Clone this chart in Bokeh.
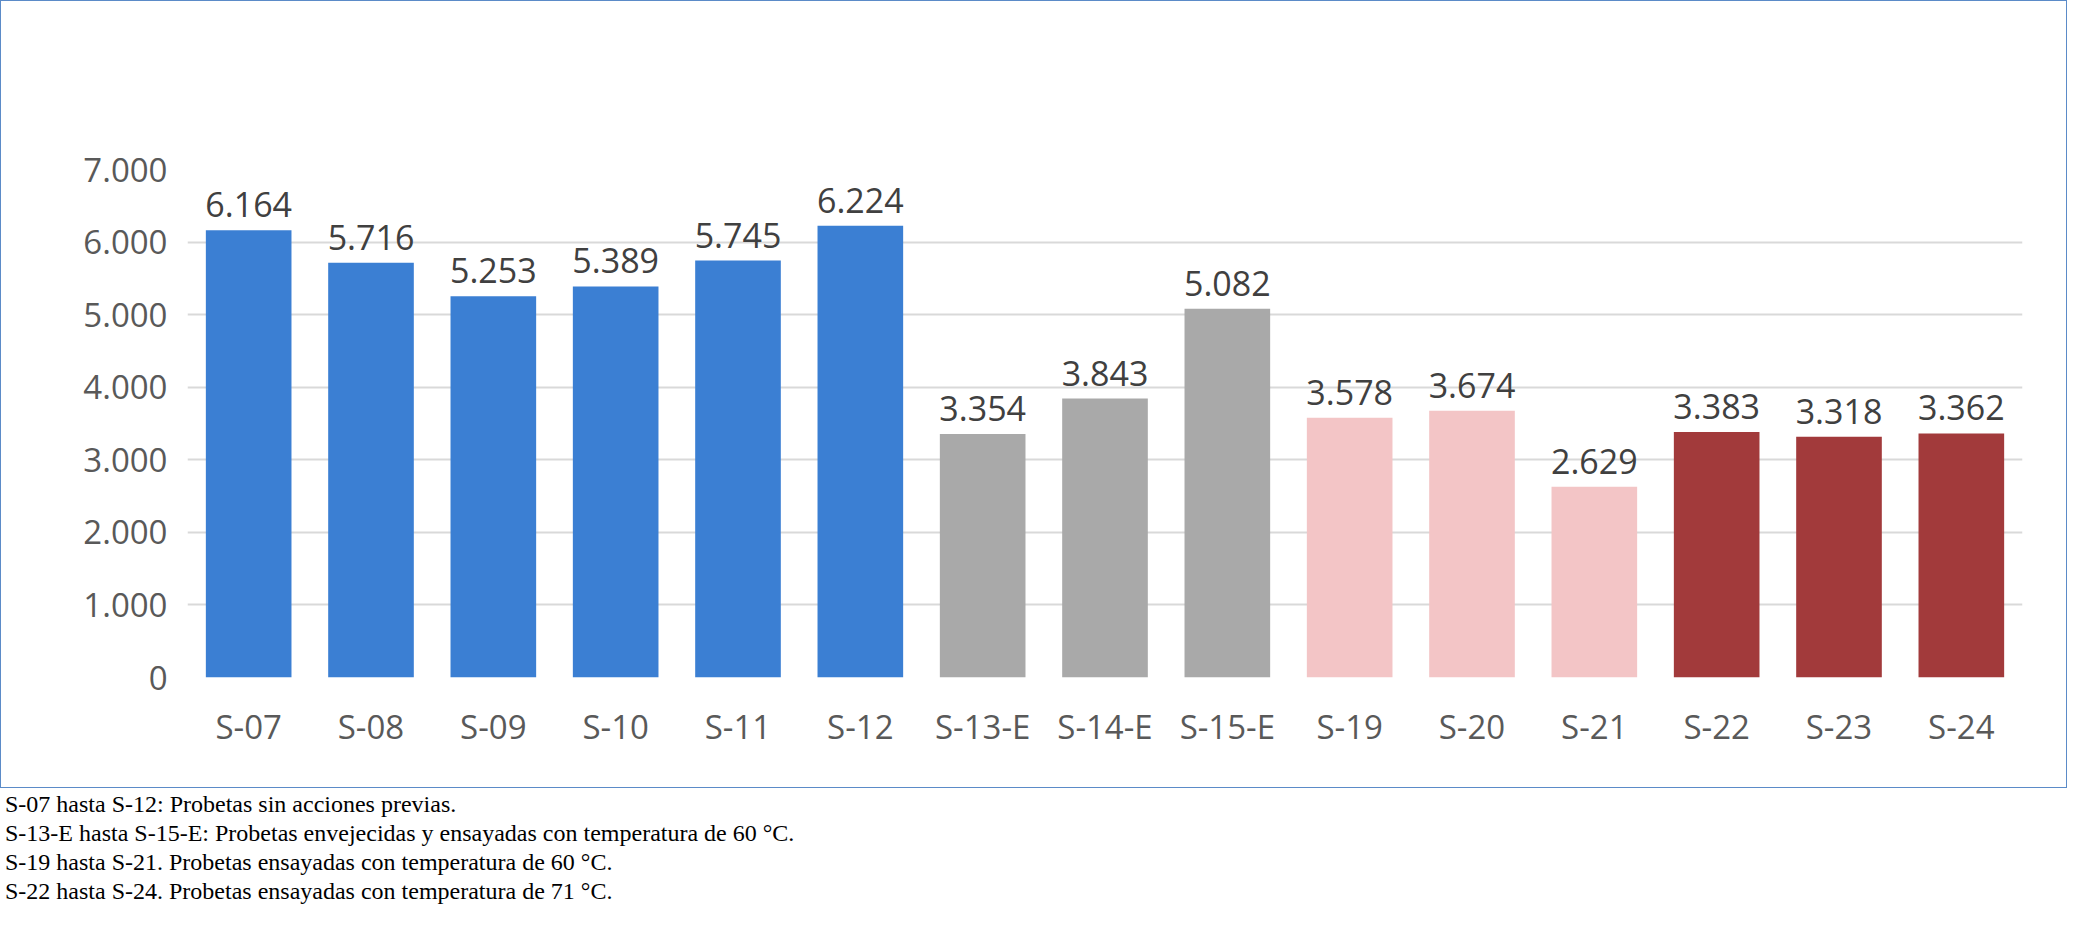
from bokeh.plotting import figure
from bokeh.models import ColumnDataSource, Label, Div, FixedTicker
from bokeh.layouts import column
from bokeh.core.properties import value
from bokeh.embed import file_html
from bokeh.resources import INLINE

cats = ["S-07","S-08","S-09","S-10","S-11","S-12","S-13-E","S-14-E","S-15-E","S-19","S-20","S-21","S-22","S-23","S-24"]
vals = [6164,5716,5253,5389,5745,6224,3354,3843,5082,3578,3674,2629,3383,3318,3362]
groups = [0]*6 + [1]*3 + [2]*3 + [3]*3
palette = ["#3b7fd3", "#a9a9a9", "#f3c5c6", "#a23a3b"]
notes = ["S-07 hasta S-12: Probetas sin acciones previas.",
         "S-13-E hasta S-15-E: Probetas envejecidas y ensayadas con temperatura de 60 °C.",
         "S-19 hasta S-21. Probetas ensayadas con temperatura de 60 °C.",
         "S-22 hasta S-24. Probetas ensayadas con temperatura de 71 °C."]

def fmt(v):
    return f"{v:,}".replace(",", ".")

src = ColumnDataSource(dict(x=cats, top=vals, color=[palette[g] for g in groups],
                            lab=[fmt(v) for v in vals], ly=[v + 180 for v in vals]))

p = figure(x_range=cats, y_range=(0, 7000), output_backend="svg", toolbar_location=None,
           frame_width=1833, frame_height=506, min_border_left=186, min_border_right=46,
           min_border_top=168, min_border_bottom=112)
p.styles = {"border": "1px solid #5b8bc8"}
p.outline_line_color = None
p.vbar(x="x", top="top", width=0.7, color="color", line_color=None, source=src)
p.text(x="x", y="ly", text="lab", source=src, text_align="center", text_baseline="bottom",
       text_font_size="34px", text_color="#404040", text_font=value("Open Sans"))

p.yaxis.ticker = FixedTicker(ticks=list(range(0, 7001, 1000)))
p.yaxis.major_label_overrides = {i: fmt(i) for i in range(0, 7001, 1000)}
for ax in (p.xaxis, p.yaxis):
    ax.axis_line_color = None
    ax.major_tick_line_color = None
    ax.minor_tick_line_color = None
    ax.major_label_text_font_size = "33px"
    ax.major_label_text_color = "#595959"
    ax.major_label_text_font = "Open Sans"
p.xaxis.major_label_standoff = 20
p.yaxis.major_label_standoff = 14
p.xgrid.grid_line_color = None
p.ygrid.grid_line_color = "#d9d9d9"
p.ygrid.grid_line_width = 2
p.add_layout(Label(x=843, y=599, x_units="screen", y_units="screen", text="Carga máxima (N)",
                   text_align="center", text_baseline="middle", text_font_size="47px",
                   text_font_style="bold", text_color="#595959", text_font="Open Sans"))

div = Div(text="<br>".join(notes), styles={"font-family": "Liberation Serif", "font-size": "24px",
                                             "line-height": "29px", "color": "#000", "margin-top": "2px"})
layout = column(p, div, spacing=0)
open("out.html", "w").write(file_html(layout, INLINE))
